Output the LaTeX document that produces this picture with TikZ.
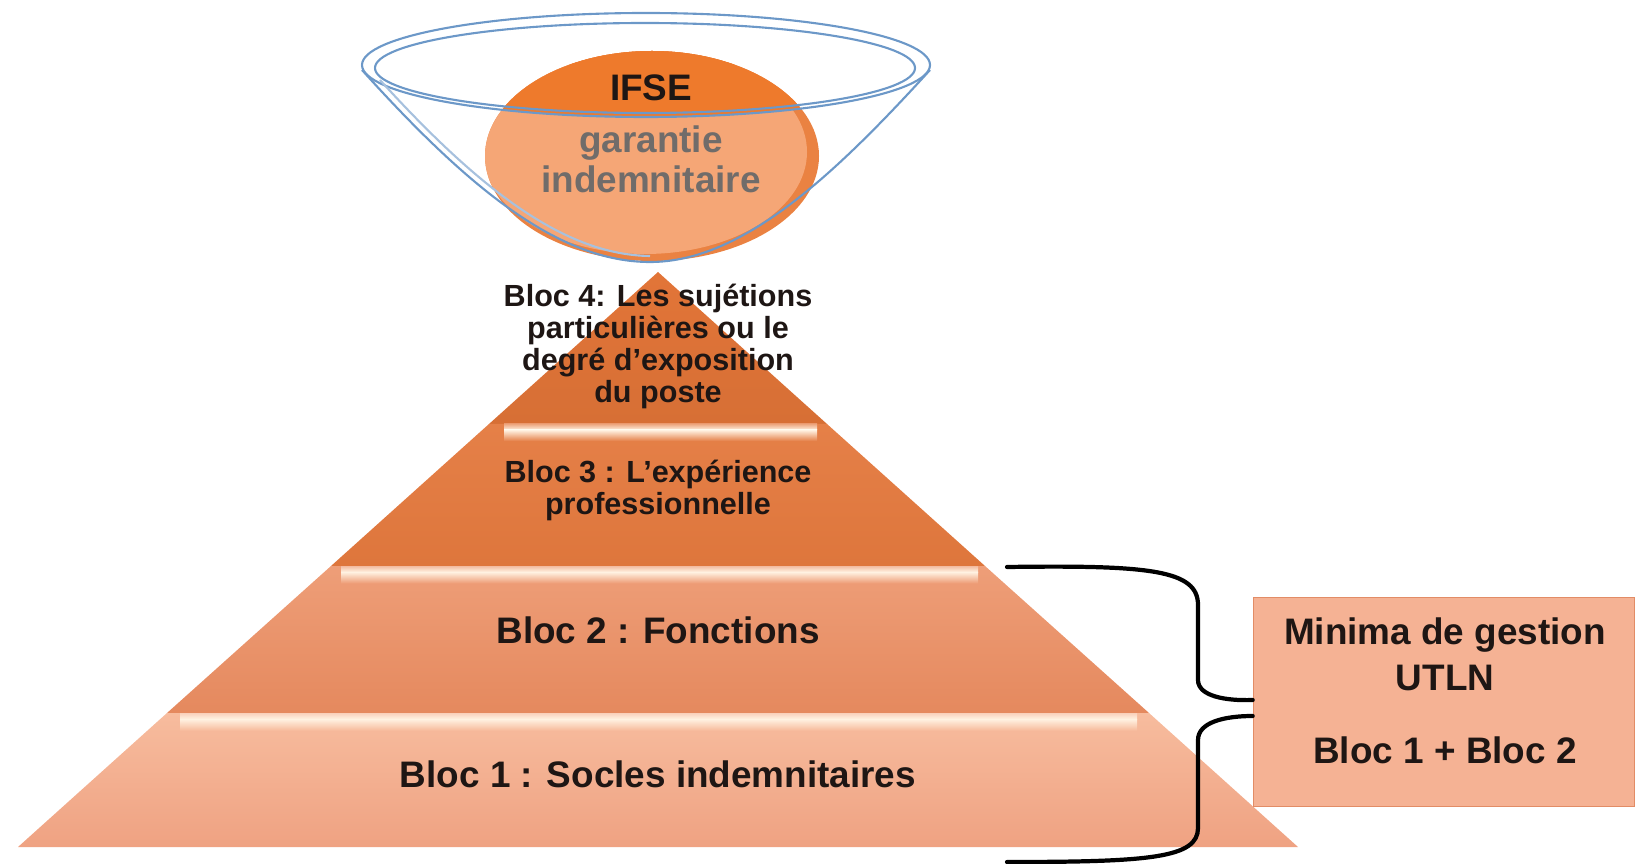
\documentclass[tikz,border=0pt]{standalone}
\usepackage{fontspec}
\setmainfont{Liberation Sans}
\usepackage{xcolor}
\usepackage{tikz}
\usetikzlibrary{calc}

\definecolor{blocfour}{RGB}{226,117,56}
\definecolor{blocthreetop}{RGB}{229,128,72}
\definecolor{blocthreebot}{RGB}{222,118,60}
\definecolor{bloctwotop}{RGB}{238,158,120}
\definecolor{bloctwobot}{RGB}{229,137,94}
\definecolor{bloconetop}{RGB}{247,188,158}
\definecolor{bloconebot}{RGB}{239,162,130}
\definecolor{shine}{RGB}{255,242,226}
\definecolor{ifsetop}{RGB}{238,122,44}
\definecolor{ifsebot}{RGB}{245,166,118}
\definecolor{ifseedge}{RGB}{234,130,66}
\definecolor{rimblue}{RGB}{108,152,200}
\definecolor{boxfill}{RGB}{245,178,148}
\definecolor{boxline}{RGB}{226,140,102}
\definecolor{greytxt}{RGB}{112,108,106}
\definecolor{darktxt}{RGB}{30,22,20}

\begin{document}
\begin{tikzpicture}[x=0.02cm,y=-0.02cm,
    bigtxt/.style={font=\fontsize{21}{26}\selectfont\bfseries,text=darktxt,inner sep=0pt},
    smalltxt/.style={font=\fontsize{17.4}{18.2}\selectfont\bfseries,text=darktxt,align=center,inner sep=0pt},
    rim/.style={draw=rimblue,line width=1.2pt},
    bracket/.style={line width=2.4pt,line cap=round}]
\useasboundingbox (0,0) rectangle (1636,864);

% pyramid
\shade[top color=blocfour,bottom color=blocfour!95!black] (658,272) -- (827,424) -- (489,424) -- cycle;
\shade[top color=blocthreetop,bottom color=blocthreebot] (489,424) -- (827,424) -- (985,566) -- (331,566) -- cycle;
\shade[top color=bloctwotop,bottom color=bloctwobot] (331,566) -- (985,566) -- (1149,713) -- (167,713) -- cycle;
\shade[top color=bloconetop,bottom color=bloconebot] (167,713) -- (1149,713) -- (1298,847) -- (18,847) -- cycle;
\foreach \ya/\xl/\xr/\bc in {424/504/817/blocthreetop,566/341/978/bloctwotop,713/180/1137/bloconetop}{
    \shade[top color=\bc!70!white,bottom color=shine] (\xl,\ya) rectangle (\xr,\ya+6);
    \shade[top color=shine,bottom color=\bc] (\xl,\ya+6) rectangle (\xr,\ya+17);
}

% IFSE bowl
\fill[ifseedge] (652,156) ellipse (167 and 105);
\begin{scope}
    \clip (652,156) ellipse (167 and 105);
    \fill[ifsebot] (645,152) ellipse (162 and 102);
    \fill[ifsetop] (400,0) rectangle (900,65);
    \fill[ifsetop] (646,65) ellipse (284 and 52);
\end{scope}
\draw[rim] (646,65) ellipse (284 and 52);
\draw[rim] (645,68) ellipse (270 and 45);
\draw[rim] (362,70) .. controls (470,190) and (560,262) .. (650,262) .. controls (740,262) and (830,180) .. (930,70);
\draw[rim,rimblue!60] (380,80) .. controls (480,190) and (565,255) .. (650,256);

\node[bigtxt] (ifse) at (651,88) {IFSE};
\node[bigtxt,text=greytxt] (garantie) at (651,143) {garantie};
\node[bigtxt,text=greytxt] (indem) at (651,179) {indemnitaire};

% blocs
\node[smalltxt] (blocfour) at (658,346) {Bloc 4: Les sujétions\\particulières ou le\\degré d’exposition\\du poste};
\node[smalltxt] (blocthree) at (658,490) {Bloc 3 : L’expérience\\professionnelle};
\node[bigtxt] (bloctwo) at (658,630) {Bloc 2 : Fonctions};
\node[bigtxt] (blocone) at (658,774) {Bloc 1 : Socles indemnitaires};

% minima
\node[fill=boxfill,draw=boxline,line width=1pt,minimum width=7.62cm,minimum height=4.18cm,inner sep=0pt] (minima) at (1444,702) {};
\node[bigtxt,align=center] (minitxt) at (1445,691) {Minima de gestion\\UTLN\\[0.56cm]Bloc 1 + Bloc 2};

\coordinate (bracetop) at (1007,567);
\coordinate (bracebot) at (1007,862);
\draw[bracket] (bracetop) .. controls (1150,565) and (1198,570) .. (1198,605) -- (1198,680)
    .. controls (1198,696) and (1225,701) .. ($(minima.west)+(0,-2)$);
\draw[bracket] ($(minima.west)+(0,14)$) .. controls (1225,716) and (1198,722) .. (1198,740) -- (1198,828)
    .. controls (1198,858) and (1150,862) .. (bracebot);
\end{tikzpicture}
\end{document}
